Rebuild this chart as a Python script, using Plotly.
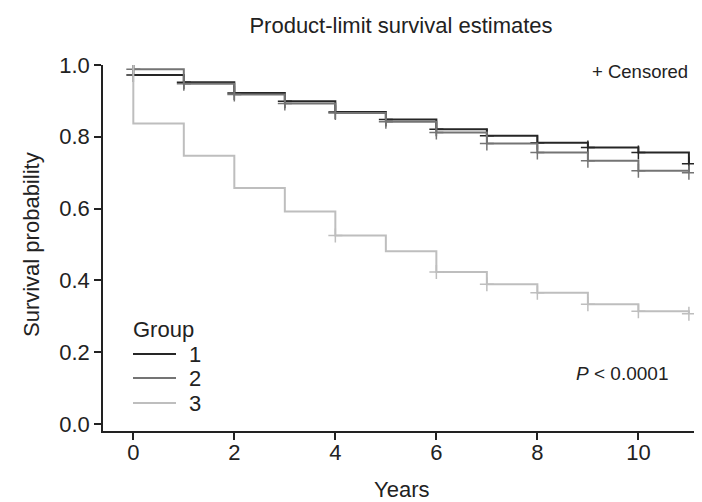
import plotly.graph_objects as go

# ---- data ----
step_years = [0, 0, 1, 2, 3, 4, 5, 6, 7, 8, 9, 10, 11]
surv_g1 = [1.0, 0.972, 0.952, 0.922, 0.899, 0.869, 0.848, 0.821, 0.803, 0.783, 0.770, 0.756, 0.725]
surv_g2 = [1.0, 0.988, 0.948, 0.918, 0.893, 0.866, 0.842, 0.812, 0.781, 0.756, 0.733, 0.705, 0.700]
surv_g3 = [1.0, 0.837, 0.747, 0.657, 0.592, 0.525, 0.481, 0.423, 0.389, 0.365, 0.333, 0.314, 0.307]
censor_g1 = [0, 1, 2, 3, 4, 5, 6, 7, 8, 9, 10, 11]
censor_g2 = [0, 1, 2, 3, 4, 5, 6, 7, 8, 9, 10, 11]
censor_g3 = [4, 6, 7, 8, 9, 10, 11]
group_names = ["1", "2", "3"]
x_tick_vals = [0, 2, 4, 6, 8, 10]
y_tick_vals = [0.0, 0.2, 0.4, 0.6, 0.8, 1.0]

colors = ["#262626", "#747474", "#bebebe"]
FONT = "Liberation Sans, Arial, sans-serif"


def level_at(t, xs, ys):
    """Survival level just after time t (right-continuous step function)."""
    val = ys[0]
    for xv, yv in zip(xs, ys):
        if xv <= t:
            val = yv
    return val


fig = go.Figure()
for name, surv, cens, col in zip(group_names, [surv_g1, surv_g2, surv_g3],
                                 [censor_g1, censor_g2, censor_g3], colors):
    fig.add_trace(go.Scatter(
        x=step_years, y=surv, mode="lines", line=dict(color=col, width=2, shape="hv"),
        name=name, showlegend=False, hoverinfo="skip"))
    fig.add_trace(go.Scatter(
        x=cens, y=[level_at(t, step_years, surv) for t in cens], mode="markers",
        marker=dict(symbol="cross-thin", size=10, line=dict(color=col, width=1.5)),
        name=name + " censored", showlegend=False, hoverinfo="skip"))

fig.update_layout(
    width=702, height=502,
    margin=dict(l=95, r=11, t=57, b=79),
    paper_bgcolor="white", plot_bgcolor="white",
    font=dict(family=FONT, color="#222222", size=22),
    title=dict(text="Product-limit survival estimates", x=0.5, xref="paper",
               xanchor="center", y=1 - 17 / 502, yref="container", yanchor="middle",
               font=dict(size=22, family=FONT, color="#222222")),
)
fig.update_xaxes(
    range=[-0.6, 11.2], tickvals=x_tick_vals + [11.19],
    ticktext=[str(v) for v in x_tick_vals] + [""],
    showline=True, linecolor="#222222", linewidth=1.5,
    ticks="outside", ticklen=7, tickwidth=1.5, tickcolor="#222222",
    showgrid=False, zeroline=False, tickfont=dict(size=22), ticklabelstandoff=-6)
fig.update_yaxes(
    range=[-0.02, 1.0], tickvals=y_tick_vals,
    ticktext=["%.1f" % v for v in y_tick_vals],
    showline=True, linecolor="#222222", linewidth=1.5,
    ticks="outside", ticklen=7, tickwidth=1.5, tickcolor="#222222",
    showgrid=False, zeroline=False, tickfont=dict(size=22))

# axis titles
fig.add_annotation(text="Survival probability", xref="paper", yref="paper",
                   x=(23 - 95) / 596, y=(423 - 237) / 366, textangle=-90,
                   showarrow=False, font=dict(size=22), xanchor="center", yanchor="middle")
fig.add_annotation(text="Years", xref="paper", yref="paper",
                   x=(393 - 95) / 596, y=(423 - 481) / 366,
                   showarrow=False, font=dict(size=22), xanchor="center", yanchor="middle")

# text notes
fig.add_annotation(text="+ Censored", xref="paper", yref="paper",
                   x=(682 - 95) / 596, y=(423 - 63) / 366, xanchor="right", yanchor="middle",
                   showarrow=False, font=dict(size=18.5))
fig.add_annotation(text="<i>P</i> &lt; 0.0001", xref="paper", yref="paper",
                   x=(662 - 95) / 596, y=(423 - 365) / 366, xanchor="right", yanchor="middle",
                   showarrow=False, font=dict(size=19))

# manual legend
fig.add_annotation(text="Group", xref="paper", yref="paper",
                   x=(123 - 95) / 596, y=(423 - 321) / 366, xanchor="left", yanchor="middle",
                   showarrow=False, font=dict(size=22))
legend_rows = [346, 370, 395]
for name, col, py in zip(group_names, colors, legend_rows):
    yp = (423 - py) / 366
    fig.add_shape(type="line", xref="paper", yref="paper",
                  x0=(125 - 95) / 596, x1=(168 - 95) / 596, y0=yp, y1=yp,
                  line=dict(color=col, width=2))
    fig.add_annotation(text=name, xref="paper", yref="paper",
                       x=(179 - 95) / 596, y=yp, xanchor="left", yanchor="middle",
                       showarrow=False, font=dict(size=22))

fig.write_html("out.html")
